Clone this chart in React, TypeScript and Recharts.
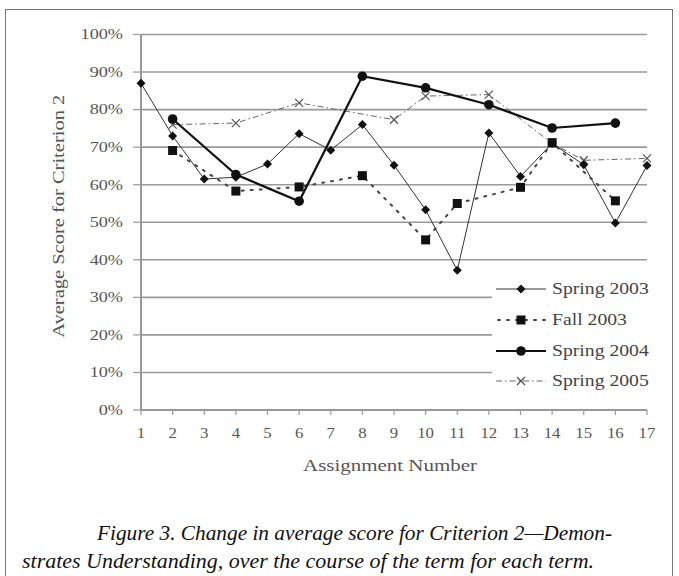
import React from 'react';
import { LineChart, Line, XAxis, YAxis, CartesianGrid, Legend, Label } from 'recharts';

const assignments = [1, 2, 3, 4, 5, 6, 7, 8, 9, 10, 11, 12, 13, 14, 15, 16, 17];
const spring2003 = [87, 73, 61.5, 62, 65.5, 73.6, 69.2, 76, 65.2, 53.3, 37.2, 73.8, 62.2, 71, 65.3, 49.8, 65.1];
const fall2003 = [null, 69.1, null, 58.3, null, 59.4, null, 62.4, null, 45.3, 55, null, 59.3, 71.2, null, 55.7, null];
const spring2004 = [null, 77.5, null, 62.7, null, 55.6, null, 88.9, null, 85.8, null, 81.3, null, 75.1, null, 76.4, null];
const spring2005 = [null, 76, null, 76.4, null, 81.8, null, null, 77.3, 83.6, null, 84, null, 71, 66.5, null, 67];
const yTicks = [0, 10, 20, 30, 40, 50, 60, 70, 80, 90, 100];
const seriesNames = ['Spring 2003', 'Fall 2003', 'Spring 2004', 'Spring 2005'];
const yTitle = 'Average Score for Criterion 2';
const xTitle = 'Assignment Number';
const captionLines = [
  'Figure 3. Change in average score for Criterion 2\u2014Demon-',
  'strates Understanding, over the course of the term for each term.',
];

const data = assignments.map((a, i) => ({
  a,
  s03: spring2003[i],
  f03: fall2003[i],
  s04: spring2004[i],
  s05: spring2005[i],
}));

const FONT = '"Liberation Serif", "Times New Roman", serif';

const ok = (v: any) => v !== null && v !== undefined && !Number.isNaN(v);

const DiamondDot = (p: any) => {
  const { cx, cy } = p;
  if (!ok(cx) || !ok(cy) || !ok(p.value)) return <g />;
  const r = 4.5;
  return <path d={`M${cx},${cy - r}L${cx + r},${cy}L${cx},${cy + r}L${cx - r},${cy}Z`} fill="#111" />;
};
const SquareDot = (p: any) => {
  const { cx, cy } = p;
  if (!ok(cx) || !ok(cy) || !ok(p.value)) return <g />;
  return <rect x={cx - 4.5} y={cy - 4.5} width={9} height={9} fill="#111" />;
};
const CircleDot = (p: any) => {
  const { cx, cy } = p;
  if (!ok(cx) || !ok(cy) || !ok(p.value)) return <g />;
  return <circle cx={cx} cy={cy} r={4.8} fill="#111" />;
};
const XDot = (p: any) => {
  const { cx, cy } = p;
  if (!ok(cx) || !ok(cy) || !ok(p.value)) return <g />;
  const r = 4;
  return (
    <g stroke="#555" strokeWidth={1.2}>
      <line x1={cx - r} y1={cy - r} x2={cx + r} y2={cy + r} />
      <line x1={cx - r} y1={cy + r} x2={cx + r} y2={cy - r} />
    </g>
  );
};

const YTick = (p: any) => {
  const { x, y, payload } = p;
  return (
    <text
      x={x}
      y={y}
      dy="0.35em"
      textAnchor="end"
      fontSize={14}
      fill="#555"
      fontFamily={FONT}
      transform={`translate(${x},${y}) scale(1.3,1) translate(${-x},${-y})`}
    >
      {payload.value}%
    </text>
  );
};

const XTick = (p: any) => {
  const { x, y, payload } = p;
  return (
    <text
      x={x}
      y={y}
      dy="0.71em"
      textAnchor="middle"
      fontSize={14}
      fill="#555"
      fontFamily={FONT}
      transform={`translate(${x},${y}) scale(1.2,1) translate(${-x},${-y})`}
    >
      {payload.value}
    </text>
  );
};

const YTitle = (p: any) => {
  const vb = p.viewBox || {};
  const cx = vb.x - 3;
  const cy = vb.y + vb.height / 2 - 6;
  return (
    <text
      x={cx}
      y={cy}
      transform={`rotate(-90, ${cx}, ${cy})`}
      textAnchor="middle"
      dominantBaseline="central"
      fontSize={16}
      fill="#555"
      fontFamily={FONT}
      textLength={243}
      lengthAdjust="spacingAndGlyphs"
    >
      {yTitle}
    </text>
  );
};

const XTitle = (p: any) => {
  const vb = p.viewBox || {};
  const cx = vb.x + vb.width / 2 - 4;
  const cy = 465;
  return (
    <text
      x={cx}
      y={cy}
      textAnchor="middle"
      dominantBaseline="central"
      fontSize={16}
      fill="#555"
      fontFamily={FONT}
      textLength={174}
      lengthAdjust="spacingAndGlyphs"
    >
      {xTitle}
    </text>
  );
};

const LegendSymbol = ({ i }: { i: number }) => {
  const w = 50;
  const c = 25;
  const m = 10;
  if (i === 0)
    return (
      <svg width={w} height={20}>
        <line x1={0} y1={m} x2={w} y2={m} stroke="#333" strokeWidth={1} />
        <path d={`M${c},${m - 4.5}L${c + 4.5},${m}L${c},${m + 4.5}L${c - 4.5},${m}Z`} fill="#111" />
      </svg>
    );
  if (i === 1)
    return (
      <svg width={w} height={20}>
        <line x1={2} y1={m} x2={w} y2={m} stroke="#444" strokeWidth={2} strokeDasharray="2 7" strokeLinecap="round" />
        <rect x={c - 4.5} y={m - 4.5} width={9} height={9} fill="#111" />
      </svg>
    );
  if (i === 2)
    return (
      <svg width={w} height={20}>
        <line x1={0} y1={m} x2={w} y2={m} stroke="#111" strokeWidth={2.2} />
        <circle cx={c} cy={m} r={4.8} fill="#111" />
      </svg>
    );
  return (
    <svg width={w} height={20}>
      <line x1={0} y1={m} x2={w} y2={m} stroke="#666" strokeWidth={1} strokeDasharray="6 3 1.5 3" />
      <g stroke="#555" strokeWidth={1.2}>
        <line x1={c - 4} y1={m - 4} x2={c + 4} y2={m + 4} />
        <line x1={c - 4} y1={m + 4} x2={c + 4} y2={m - 4} />
      </g>
    </svg>
  );
};

const LegendContent = () => (
  <div style={{ background: '#fff', width: 170, padding: '6px 0' }}>
    {seriesNames.map((n, i) => (
      <div key={n} style={{ display: 'flex', alignItems: 'center', height: 30.7 }}>
        <div style={{ width: 56, paddingLeft: 4, display: 'flex' }}>
          <LegendSymbol i={i} />
        </div>
        <span
          style={{
            fontFamily: FONT,
            fontSize: 16,
            color: '#444',
            display: 'inline-block',
            transform: 'scaleX(1.23)',
            transformOrigin: 'left center',
            whiteSpace: 'nowrap',
          }}
        >
          {n}
        </span>
      </div>
    ))}
  </div>
);

export default function App() {
  return (
    <div style={{ position: 'absolute', left: 0, top: 0, width: 679, height: 576, overflow: 'hidden', background: '#fff' }}>
      <div
        style={{
          position: 'absolute',
          left: 5,
          top: 9,
          width: 668,
          height: 620,
          border: '1.5px solid #777',
          boxSizing: 'border-box',
        }}
      />
      <div style={{ position: 'absolute', left: 0, top: 0 }}>
        <LineChart width={679} height={480} data={data} margin={{ top: 34.5, right: 32, bottom: 40, left: 61 }}>
          <CartesianGrid vertical={false} stroke="#9a9a9a" strokeWidth={1.6} />
          <XAxis
            dataKey="a"
            type="number"
            domain={[1, 17]}
            ticks={assignments}
            interval={0}
            height={30}
            tickSize={5}
            tickMargin={13}
            stroke="#999"
            strokeWidth={2}
            tick={<XTick />}
            tickLine={{ stroke: '#999', strokeWidth: 1.2 }}
          >
            <Label content={<XTitle />} />
          </XAxis>
          <YAxis
            type="number"
            domain={[0, 100]}
            ticks={yTicks}
            interval={0}
            width={80}
            tickSize={8}
            tickMargin={10}
            stroke="#999"
            strokeWidth={2}
            tick={<YTick />}
            tickLine={{ stroke: '#999', strokeWidth: 1.2 }}
          >
            <Label content={<YTitle />} />
          </YAxis>
          <Legend
            content={<LegendContent />}
            layout="vertical"
            verticalAlign="middle"
            align="center"
            wrapperStyle={{ position: 'absolute', left: 492, top: 268, width: 170 }}
          />
          <Line
            dataKey="s05"
            name={seriesNames[3]}
            stroke="#666"
            strokeWidth={1}
            strokeDasharray="6 3 1.5 3"
            dot={<XDot />}
            connectNulls
            isAnimationActive={false}
          />
          <Line
            dataKey="f03"
            name={seriesNames[1]}
            stroke="#444"
            strokeWidth={2}
            strokeDasharray="2 7"
            strokeLinecap="round"
            dot={<SquareDot />}
            connectNulls
            isAnimationActive={false}
          />
          <Line
            dataKey="s03"
            name={seriesNames[0]}
            stroke="#333"
            strokeWidth={1}
            dot={<DiamondDot />}
            connectNulls
            isAnimationActive={false}
          />
          <Line
            dataKey="s04"
            name={seriesNames[2]}
            stroke="#111"
            strokeWidth={2.2}
            dot={<CircleDot />}
            connectNulls
            isAnimationActive={false}
          />
        </LineChart>
      </div>
      <svg style={{ position: 'absolute', left: 0, top: 500 }} width={679} height={76}>
        <text
          x={97}
          y={40}
          fontFamily={FONT}
          fontStyle="italic"
          fontSize={22}
          fill="#111"
          textLength={515}
          lengthAdjust="spacingAndGlyphs"
        >
          {captionLines[0]}
        </text>
        <text
          x={22}
          y={68}
          fontFamily={FONT}
          fontStyle="italic"
          fontSize={22}
          fill="#111"
          textLength={572}
          lengthAdjust="spacingAndGlyphs"
        >
          {captionLines[1]}
        </text>
      </svg>
    </div>
  );
}
